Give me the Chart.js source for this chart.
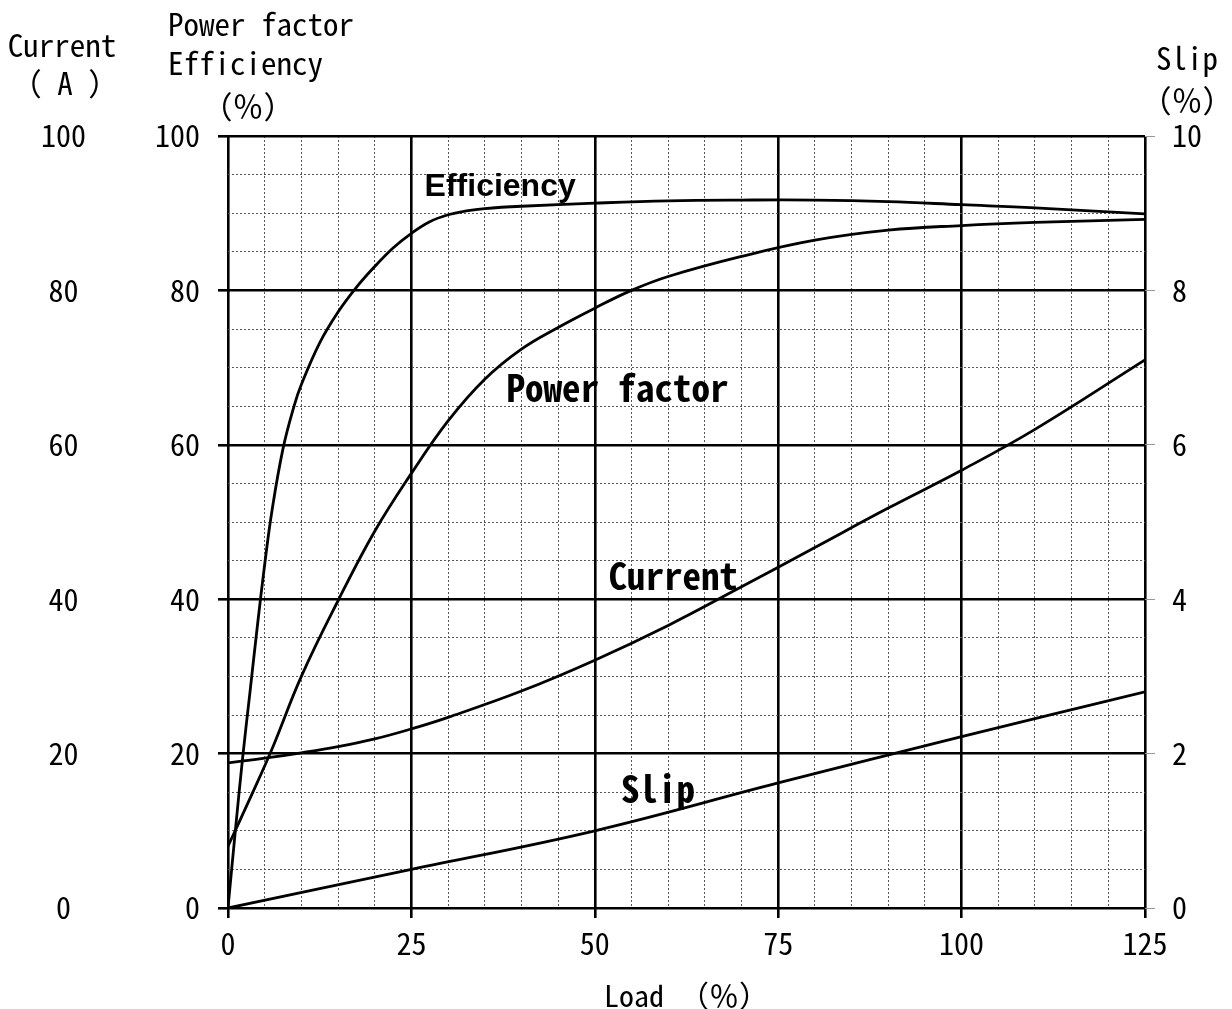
<!DOCTYPE html>
<html>
<head>
<meta charset="utf-8">
<script src="https://cdn.jsdelivr.net/npm/chart.js@4.4.1/dist/chart.umd.min.js"></script>
<style>
  html, body { margin: 0; padding: 0; background: #fff; }
  canvas { display: block; }
</style>
</head>
<body>
<canvas id="motorChart" width="1232" height="1009"></canvas>
<script>
// values (load in %)
var effLoad = [0, 1, 2, 3, 4, 5, 6, 7.5, 9, 10, 12.5, 15, 17.5, 20, 22.5, 25, 27.5, 30, 32.5, 35, 40, 50, 60, 70, 80, 90, 100, 110, 125];
var effValues = [0, 10, 19.5, 28, 36.5, 44.5, 51.5, 59.5, 65, 67.8, 73.2, 77.2, 80.4, 83.1, 85.5, 87.4, 88.9, 89.8, 90.3, 90.6, 90.9, 91.3, 91.6, 91.7, 91.7, 91.5, 91.1, 90.7, 89.9];

var pfLoad = [0, 3, 6, 10, 15, 20, 25, 30, 35, 40, 45, 50, 55, 60, 70, 80, 90, 100, 110, 125];
var pfValues = [8, 14.2, 20.6, 30, 39.8, 48.8, 56.3, 63.1, 68.5, 72.4, 75.2, 77.7, 80.0, 81.8, 84.4, 86.5, 87.8, 88.4, 88.8, 89.2];

var currentLoad = [0, 5, 10, 15, 20, 25, 30, 40, 50, 60, 70, 80, 90, 100, 110, 125];
var currentValues = [18.8, 19.4, 20.1, 20.9, 21.9, 23.2, 24.7, 28.1, 32.1, 36.6, 41.6, 46.7, 51.8, 56.7, 62.0, 71.0];

var slipLoad = [0, 25, 50, 75, 100, 125];
var slipValues = [0, 0.5, 1.0, 1.62, 2.22, 2.8];

var loadTicks = [0, 25, 50, 75, 100, 125];
var pctTicks = [0, 20, 40, 60, 80, 100];
var slipTicks = [0, 2, 4, 6, 8, 10];

var MONO = '"Noto Sans Mono CJK JP", "Liberation Mono", monospace';

function pairs(xs, ys) {
    return xs.map(function(x, i) { return { x: x, y: ys[i] }; });
}

function curve(data, axis) {
    return {
        data: data,
        yAxisID: axis,
        borderColor: '#000',
        borderWidth: 2.8,
        pointRadius: 0,
        fill: false,
        tension: 0.4
    };
}

// titles above the axes and the names next to each curve
var textPlugin = {
    id: 'texts',
    afterDraw: function(chart) {
        var c = chart.ctx;
        var x = chart.scales.x, y = chart.scales.yPct;
        c.save();
        c.fillStyle = '#000';
        c.textBaseline = 'alphabetic';

        c.font = '31px ' + MONO;
        c.textAlign = 'center';
        c.fillText('Current', 62, 57);
        c.fillText('（ A ）', 65, 95);
        c.textAlign = 'left';
        c.fillText('Power factor', 168, 36);
        c.fillText('Efficiency', 168, 75);
        c.textAlign = 'center';
        c.fillText('（％）', 248, 118);
        c.fillText('Slip', 1187, 70);
        c.fillText('（％）', 1187, 112);

        c.font = 'bold 32px "Liberation Sans", Arial, sans-serif';
        c.fillText('Efficiency', x.getPixelForValue(37.1), y.getPixelForValue(92.2));
        c.font = 'bold 37px ' + MONO;
        c.fillText('Power factor', x.getPixelForValue(53.1), y.getPixelForValue(65.6));
        c.fillText('Current', x.getPixelForValue(60.7), y.getPixelForValue(41.2));
        c.fillText('Slip', x.getPixelForValue(58.6), y.getPixelForValue(13.6));
        c.restore();
    }
};

var isMajor = function(v, step) { return Math.abs(v % step) < 1e-6; };

var ctx = document.getElementById('motorChart').getContext('2d');
var chart = new Chart(ctx, {
    type: 'line',
    data: {
        datasets: [
            curve(pairs(effLoad, effValues), 'yPct'),
            curve(pairs(pfLoad, pfValues), 'yPct'),
            curve(pairs(currentLoad, currentValues), 'yCur'),
            curve(pairs(slipLoad, slipValues), 'ySlip')
        ]
    },
    options: {
        responsive: false,
        animation: false,
        layout: { padding: { top: 136, left: 0, right: 0, bottom: 0 } },
        plugins: {
            legend: { display: false },
            tooltip: { enabled: false }
        },
        scales: {
            x: {
                type: 'linear',
                min: 0,
                max: 125,
                afterBuildTicks: function(s) {
                    s.ticks = [];
                    for (var v = 0; v <= 125; v += 5) s.ticks.push({ value: v });
                },
                ticks: {
                    autoSkip: false,
                    maxRotation: 0,
                    padding: 8,
                    color: '#000',
                    font: { family: MONO, size: 30 },
                    callback: function(v) { return loadTicks.indexOf(v) >= 0 ? String(v) : ''; }
                },
                grid: {
                    color: function(c) { return isMajor(c.tick.value, 25) ? '#000' : '#555'; },
                    lineWidth: function(c) { return isMajor(c.tick.value, 25) ? 2.6 : 1; },
                    tickLength: 10,
                    tickWidth: 2.6,
                    tickColor: function(c) { return isMajor(c.tick.value, 25) ? '#000' : 'rgba(0,0,0,0)'; }
                },
                border: {
                    display: false,
                    dash: function(c) { return c.tick && !isMajor(c.tick.value, 25) ? [2, 2] : []; }
                },
                title: {
                    display: true,
                    text: 'Load （％）',
                    color: '#000',
                    font: { family: MONO, size: 30, lineHeight: 1 },
                    padding: { top: 0, bottom: -2 }
                },
                afterFit: function(s) { s.height = 101; }
            },
            yPct: {
                position: 'left',
                weight: 0,
                min: 0,
                max: 100,
                afterBuildTicks: function(s) {
                    s.ticks = [];
                    for (var v = 0; v <= 100; v += 5) s.ticks.push({ value: v });
                },
                ticks: {
                    autoSkip: false,
                    padding: 18,
                    color: '#000',
                    font: { family: MONO, size: 30 },
                    callback: function(v) { return pctTicks.indexOf(v) >= 0 ? String(v) : ''; }
                },
                grid: {
                    color: function(c) { return isMajor(c.tick.value, 20) ? '#000' : '#555'; },
                    lineWidth: function(c) { return isMajor(c.tick.value, 20) ? 2.6 : 1; },
                    tickLength: 10,
                    tickWidth: 2.6,
                    tickColor: function(c) { return isMajor(c.tick.value, 20) ? '#000' : 'rgba(0,0,0,0)'; }
                },
                border: {
                    display: false,
                    dash: function(c) { return c.tick && !isMajor(c.tick.value, 20) ? [2, 2] : []; }
                },
                afterFit: function(s) { s.width = 88; }
            },
            yCur: {
                position: 'left',
                weight: 1,
                min: 0,
                max: 100,
                afterBuildTicks: function(s) {
                    s.ticks = pctTicks.map(function(v) { return { value: v }; });
                },
                ticks: {
                    crossAlign: 'center',
                    padding: 54,
                    color: '#000',
                    font: { family: MONO, size: 30 }
                },
                grid: { display: false, drawTicks: false },
                border: { display: false },
                afterFit: function(s) { s.width = 140; }
            },
            ySlip: {
                position: 'right',
                min: 0,
                max: 10,
                afterBuildTicks: function(s) {
                    s.ticks = slipTicks.map(function(v) { return { value: v }; });
                },
                ticks: {
                    padding: 17,
                    color: '#000',
                    font: { family: MONO, size: 30 }
                },
                grid: {
                    drawOnChartArea: false,
                    tickLength: 10,
                    tickWidth: 1,
                    tickColor: '#999'
                },
                border: { display: false },
                afterFit: function(s) { s.width = 87; }
            }
        }
    },
    plugins: [textPlugin]
});
</script>
</body>
</html>
